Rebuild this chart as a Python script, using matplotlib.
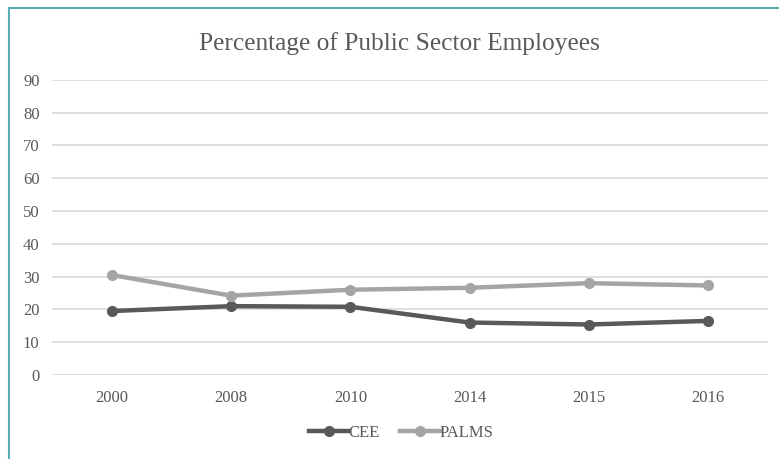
import matplotlib.pyplot as plt
from matplotlib.lines import Line2D

years = ['2000', '2008', '2010', '2014', '2015', '2016']
cee = [19.5, 21.0, 20.8, 16.0, 15.4, 16.5]
palms = [30.5, 24.2, 26.0, 26.6, 28.0, 27.3]

plt.rcParams['font.family'] = ['Liberation Serif', 'DejaVu Serif']
text_col = '#595959'

fig = plt.figure(figsize=(7.79, 4.59), dpi=100)
ax = fig.add_axes([0.0668, 0.183, 0.919, 0.643])

x = range(len(years))
ax.plot(x, cee, color='#595959', lw=3.2, marker='o', ms=7, label='CEE', zorder=3)
ax.plot(x, palms, color='#a5a5a5', lw=3.2, marker='o', ms=7, label='PALMS', zorder=3)

ax.set_xlim(-0.5, len(years) - 0.5)
ax.set_ylim(0, 90)
ax.set_yticks(range(0, 91, 10))
ax.set_xticks(list(x))
ax.set_xticklabels(years)
ax.grid(axis='y', color='#d9d9d9', lw=1.2)
ax.set_axisbelow(True)
for s in ax.spines.values():
    s.set_visible(False)
ax.tick_params(length=0, labelsize=12, colors=text_col)
ax.tick_params(axis='x', pad=11)
ax.tick_params(axis='y', pad=9)

fig.suptitle('Percentage of Public Sector Employees', x=0.513, y=0.93,
             fontsize=18.3, color=text_col)
fig.legend(loc='center', bbox_to_anchor=(0.515, 0.057), ncol=2, frameon=False,
           fontsize=12, handlelength=2.4, handletextpad=0.0, columnspacing=1.2,
           labelcolor=text_col)

# frame lines along the top and left
fig.add_artist(Line2D([8.5 / 779, 1], [1 - 7.5 / 459, 1 - 7.5 / 459],
                      transform=fig.transFigure, color='#5aaeb6', lw=1.5))
fig.add_artist(Line2D([8.5 / 779, 8.5 / 779], [0, 1 - 7.5 / 459],
                      transform=fig.transFigure, color='#5aaeb6', lw=1.5))

fig.savefig('out.png', dpi=100)
